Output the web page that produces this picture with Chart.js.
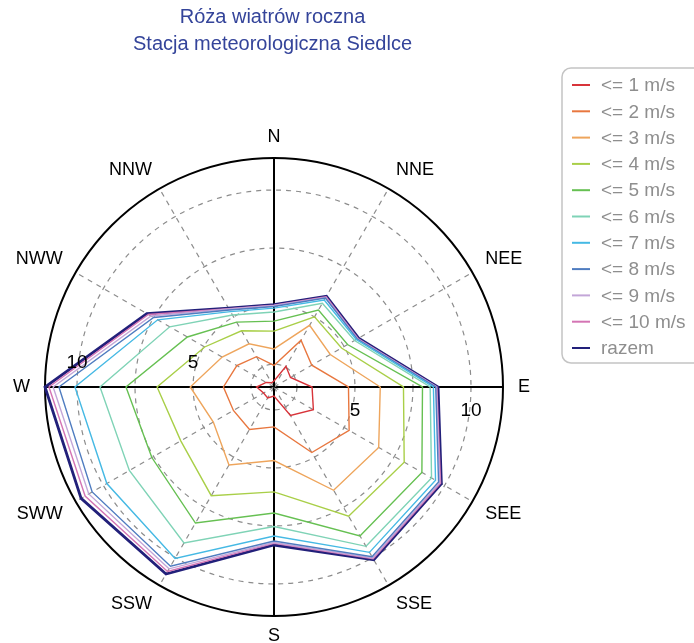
<!DOCTYPE html>
<html>
<head>
<meta charset="utf-8">
<title>Róża wiatrów roczna</title>
<script src="https://cdn.jsdelivr.net/npm/chart.js@4.4.1/dist/chart.umd.min.js"></script>
<style>
  html, body { margin: 0; padding: 0; background: #fff; overflow: hidden; }
  canvas { display: block; }
</style>
</head>
<body>
<canvas id="rose" width="694" height="643"></canvas>
<script>
// kierunki i przedziały prędkości
const directions = ['N', 'NNE', 'NEE', 'E', 'SEE', 'SSE', 'S', 'SSW', 'SWW', 'W', 'NWW', 'NNW'];
const speedLabels = ['<= 1 m/s', '<= 2 m/s', '<= 3 m/s', '<= 4 m/s', '<= 5 m/s', '<= 6 m/s',
                     '<= 7 m/s', '<= 8 m/s', '<= 9 m/s', '<= 10 m/s', 'razem'];

// wartości skumulowane
const upTo1  = [1.77, 2.54, 2.33, 3.15, 3.47, 2.93, 1.90, 2.05, 2.03, 2.26, 1.90, 1.72];
const upTo2  = [2.44, 3.84, 3.39, 4.72, 5.25, 4.77, 3.23, 3.62, 3.53, 3.69, 3.36, 3.02];
const upTo3  = [3.15, 4.58, 4.31, 6.09, 6.72, 6.65, 4.68, 5.39, 4.53, 5.12, 4.09, 3.66];
const upTo4  = [3.92, 5.00, 4.87, 7.09, 7.99, 7.94, 6.03, 6.92, 6.15, 6.55, 4.96, 4.31];
const upTo5  = [4.35, 5.34, 5.17, 7.91, 8.87, 8.92, 6.94, 8.28, 7.59, 7.89, 5.82, 4.74];
const upTo6  = [4.74, 5.68, 5.52, 8.24, 9.35, 9.44, 7.52, 9.27, 8.71, 9.01, 6.70, 5.09];
const upTo7  = [4.91, 5.84, 5.60, 8.38, 9.55, 9.74, 7.93, 10.04, 9.83, 10.09, 7.30, 5.26];
const upTo8  = [4.98, 5.94, 5.65, 8.48, 9.70, 9.96, 8.15, 10.43, 10.56, 10.78, 7.50, 5.34];
const upTo9  = [5.02, 5.97, 5.67, 8.51, 9.76, 10.02, 8.21, 10.56, 10.73, 11.03, 7.63, 5.39];
const upTo10 = [5.04, 6.00, 5.69, 8.53, 9.80, 10.06, 8.25, 10.69, 10.91, 11.21, 7.76, 5.41];
const razem  = [5.06, 6.03, 5.72, 8.58, 9.84, 10.11, 8.32, 10.82, 11.11, 11.38, 7.84, 5.43];

const ringTicks = [2.5, 5, 7.5, 10];
const ringLabels = [5, 10];
const R_MIN = 1.51;
const R_MAX = 11.38;

const series = [upTo1, upTo2, upTo3, upTo4, upTo5, upTo6, upTo7, upTo8, upTo9, upTo10, razem];
const colors = ['#d8343a', '#e8773f', '#eea55c', '#a9cf48', '#66c052', '#7fd3b6',
                '#45b9e4', '#4f7cc0', '#c3a6d8', '#d474b4', '#22207a'];

const FONT = '"Liberation Sans", Arial, sans-serif';

// etykiety pierścieni i legenda w ramce
const roseExtras = {
  id: 'roseExtras',
  afterDraw(chart) {
    const r = chart.scales.r;
    const ctx = chart.ctx;
    ctx.save();
    ctx.font = '19px ' + FONT;
    ctx.fillStyle = '#000';
    ctx.textAlign = 'center';
    ctx.textBaseline = 'middle';
    ringLabels.forEach(v => {
      const d = r.getDistanceFromCenterForValue(v);
      ctx.fillText(String(v), r.xCenter - d, r.yCenter - 24);
      ctx.fillText(String(v), r.xCenter + d, r.yCenter + 24);
    });

    // legenda
    const bx = 562, by = 68, bw = 150, bh = 295;
    ctx.strokeStyle = '#c4c4c4';
    ctx.lineWidth = 1.5;
    ctx.beginPath();
    ctx.roundRect(bx, by, bw, bh, 9);
    ctx.stroke();

    ctx.textAlign = 'left';
    ctx.font = '19px ' + FONT;
    chart.data.datasets.forEach((ds, i) => {
      const y = 85 + i * 26.3;
      ctx.strokeStyle = ds.borderColor;
      ctx.lineWidth = 2;
      ctx.beginPath();
      ctx.moveTo(572, y);
      ctx.lineTo(590, y);
      ctx.stroke();
      ctx.fillStyle = '#8e8e8e';
      ctx.fillText(ds.label, 601, y + 1);
    });
    ctx.restore();
  }
};

new Chart(document.getElementById('rose'), {
  type: 'radar',
  data: {
    labels: directions,
    datasets: series.map((vals, i) => ({
      label: speedLabels[i],
      data: vals,
      borderColor: colors[i],
      backgroundColor: colors[i],
      borderWidth: i === series.length - 1 ? 2.8 : 1.4,
      pointRadius: 0,
      fill: false,
      tension: 0
    }))
  },
  options: {
    responsive: false,
    animation: false,
    devicePixelRatio: 1,
    layout: { padding: { left: 0, right: 149, top: 0, bottom: 0 } },
    scales: {
      r: {
        min: R_MIN,
        max: R_MAX,
        afterBuildTicks(scale) {
          scale.ticks = [R_MIN, ...ringTicks, R_MAX].map(v => ({ value: v }));
        },
        ticks: { display: false },
        grid: {
          circular: true,
          color: c => (c.tick && c.tick.value === R_MAX) ? '#000' : '#8c8c8c',
          lineWidth: c => (c.tick && c.tick.value === R_MAX) ? 2 : 1.2
        },
        border: {
          dash: c => (c.tick && c.tick.value === R_MAX) ? [] : [5, 5]
        },
        angleLines: {
          color: c => c.index % 3 === 0 ? '#000' : '#8c8c8c',
          lineWidth: c => c.index % 3 === 0 ? 2 : 1.2,
          borderDash: c => c.index % 3 === 0 ? [] : [5, 5]
        },
        pointLabels: {
          color: '#000',
          padding: 15,
          font: { family: FONT, size: 18, lineHeight: '11px' }
        }
      }
    },
    plugins: {
      legend: { display: false },
      tooltip: { enabled: false },
      title: {
        display: true,
        fullSize: false,
        text: ['Róża wiatrów roczna', 'Stacja meteorologiczna Siedlce'],
        color: '#34449a',
        font: { family: FONT, size: 20, weight: 'normal', lineHeight: '27px' },
        padding: { top: 4, bottom: 74 }
      }
    }
  },
  plugins: [roseExtras]
});
</script>
</body>
</html>
